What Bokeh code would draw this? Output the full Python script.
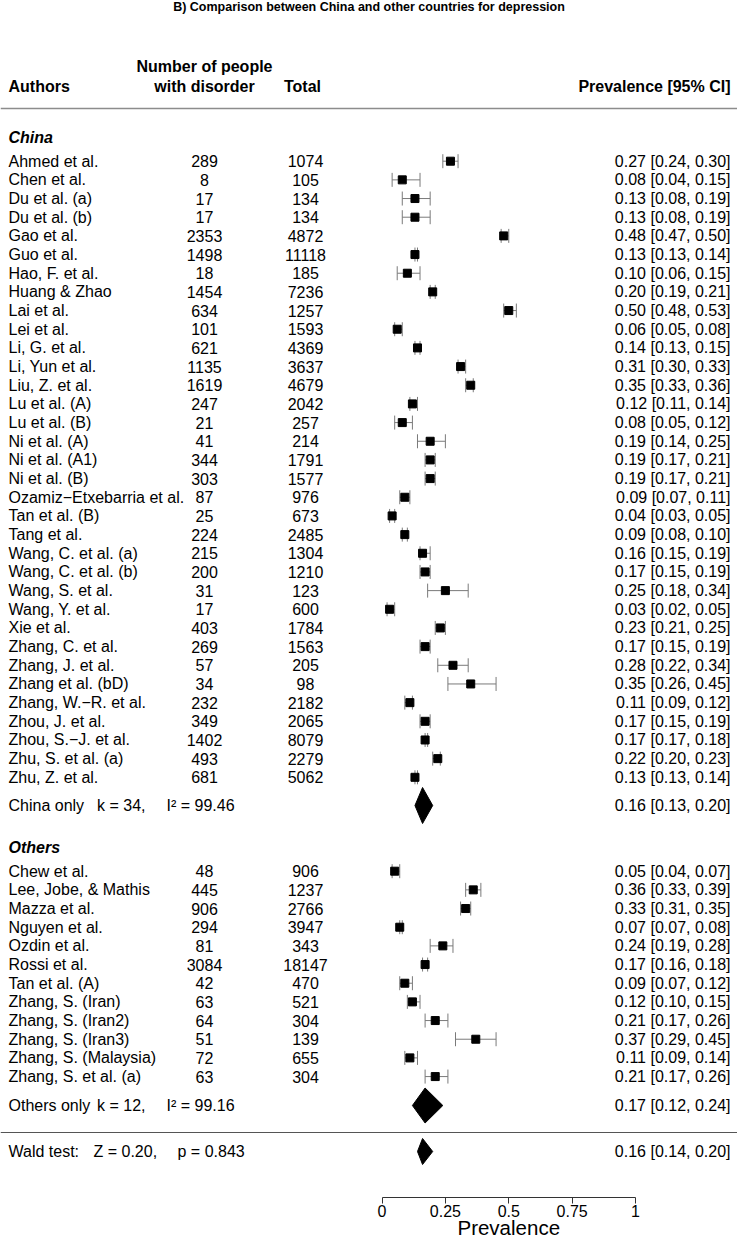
from bokeh.plotting import figure
from bokeh.models import Range1d, LinearAxis, FixedTicker, Span
from bokeh.core.properties import value
from bokeh.embed import file_html
from bokeh.resources import INLINE

# ---------------- data ----------------
china_authors = ["Ahmed et al.", "Chen et al.", "Du et al. (a)", "Du et al. (b)", "Gao et al.",
                 "Guo et al.", "Hao, F. et al.", "Huang & Zhao", "Lai et al.", "Lei et al.",
                 "Li, G. et al.", "Li, Yun et al.", "Liu, Z. et al.", "Lu et al. (A)", "Lu et al. (B)",
                 "Ni et al. (A)", "Ni et al. (A1)", "Ni et al. (B)", "Ozamiz\u2212Etxebarria et al.",
                 "Tan et al. (B)", "Tang et al.", "Wang, C. et al. (a)", "Wang, C. et al. (b)",
                 "Wang, S. et al.", "Wang, Y. et al.", "Xie et al.", "Zhang, C. et al.",
                 "Zhang, J. et al.", "Zhang et al. (bD)", "Zhang, W.\u2212R. et al.", "Zhou, J. et al.",
                 "Zhou, S.\u2212J. et al.", "Zhu, S. et al. (a)", "Zhu, Z. et al."]
china_cases = [289, 8, 17, 17, 2353, 1498, 18, 1454, 634, 101, 621, 1135, 1619, 247, 21, 41, 344,
               303, 87, 25, 224, 215, 200, 31, 17, 403, 269, 57, 34, 232, 349, 1402, 493, 681]
china_total = [1074, 105, 134, 134, 4872, 11118, 185, 7236, 1257, 1593, 4369, 3637, 4679, 2042,
               257, 214, 1791, 1577, 976, 673, 2485, 1304, 1210, 123, 600, 1784, 1563, 205, 98,
               2182, 2065, 8079, 2279, 5062]
china_est = [0.27, 0.08, 0.13, 0.13, 0.48, 0.13, 0.10, 0.20, 0.50, 0.06, 0.14, 0.31, 0.35, 0.12,
             0.08, 0.19, 0.19, 0.19, 0.09, 0.04, 0.09, 0.16, 0.17, 0.25, 0.03, 0.23, 0.17, 0.28,
             0.35, 0.11, 0.17, 0.17, 0.22, 0.13]
china_lo = [0.24, 0.04, 0.08, 0.08, 0.47, 0.13, 0.06, 0.19, 0.48, 0.05, 0.13, 0.30, 0.33, 0.11,
            0.05, 0.14, 0.17, 0.17, 0.07, 0.03, 0.08, 0.15, 0.15, 0.18, 0.02, 0.21, 0.15, 0.22,
            0.26, 0.09, 0.15, 0.17, 0.20, 0.13]
china_hi = [0.30, 0.15, 0.19, 0.19, 0.50, 0.14, 0.15, 0.21, 0.53, 0.08, 0.15, 0.33, 0.36, 0.14,
            0.12, 0.25, 0.21, 0.21, 0.11, 0.05, 0.10, 0.19, 0.19, 0.34, 0.05, 0.25, 0.19, 0.34,
            0.45, 0.12, 0.19, 0.18, 0.23, 0.14]

others_authors = ["Chew et al.", "Lee, Jobe, & Mathis", "Mazza et al.", "Nguyen et al.",
                  "Ozdin et al.", "Rossi et al.", "Tan et al. (A)", "Zhang, S. (Iran)",
                  "Zhang, S. (Iran2)", "Zhang, S. (Iran3)", "Zhang, S. (Malaysia)",
                  "Zhang, S. et al. (a)"]
others_cases = [48, 445, 906, 294, 81, 3084, 42, 63, 64, 51, 72, 63]
others_total = [906, 1237, 2766, 3947, 343, 18147, 470, 521, 304, 139, 655, 304]
others_est = [0.05, 0.36, 0.33, 0.07, 0.24, 0.17, 0.09, 0.12, 0.21, 0.37, 0.11, 0.21]
others_lo = [0.04, 0.33, 0.31, 0.07, 0.19, 0.16, 0.07, 0.10, 0.17, 0.29, 0.09, 0.17]
others_hi = [0.07, 0.39, 0.35, 0.08, 0.28, 0.18, 0.12, 0.15, 0.26, 0.45, 0.14, 0.26]

summary_names = ["China only", "Others only", "Wald test:"]
summary_stat1 = ["k = 34,", "k = 12,", "Z = 0.20,"]
summary_stat2 = ["I\u00b2 = 99.46", "I\u00b2 = 99.16", "p = 0.843"]
summary_est = [0.16, 0.17, 0.16]
summary_lo = [0.13, 0.12, 0.14]
summary_hi = [0.20, 0.24, 0.20]

x_ticks = [0, 0.25, 0.5, 0.75, 1]
x_tick_labels = ["0", "0.25", "0.5", "0.75", "1"]
x_axis_title = "Prevalence"

title_text = "B) Comparison between China and other countries for depression"

# ---------------- layout ----------------
W, H = 737, 1237
AXIS_Y = 1197                   # page px of the prevalence axis line
X0_PX, X1_PX = 381.5, 635       # page px of prevalence 0 and 1
UNIT_PX = X1_PX - X0_PX
FONT = "Liberation Sans"
FS = "16px"
ROW = 18.67


def px2x(px):
    return (px - X0_PX) / UNIT_PX


p = figure(width=W, height=H,
           x_range=Range1d(px2x(0), px2x(W)),
           y_range=Range1d(H, 0),
           x_axis_type=None, y_axis_type=None,
           toolbar_location=None, output_backend="svg",
           min_border=0, outline_line_color=None)

china_y = [160.7 + ROW * i for i in range(len(china_authors))]
others_y = [870.7 + ROW * i for i in range(len(others_authors))]
summary_y = [805.0, 1105.0, 1151.0]
diamond_h = [18.0, 17.5, 13.0]


def txt(x, y, t, align="left", style="normal", size=FS, color="black"):
    p.text(x=x, y=y, text=t, text_font=value(FONT), text_font_size=value(size),
           text_font_style=style, text_align=align, text_baseline="middle",
           text_color=color)


# title & header
txt([px2x(368.5)], [6], [title_text], align="center", style="bold", size="12.5px")
txt([px2x(204)], [66], ["Number of people"], align="center", style="bold")
txt([px2x(204)], [86], ["with disorder"], align="center", style="bold")
txt([px2x(8)], [86], ["Authors"], style="bold")
txt([px2x(302)], [86], ["Total"], align="center", style="bold")
txt([px2x(730)], [86], ["Prevalence [95% CI]"], align="right", style="bold")
p.add_layout(Span(location=108, dimension="width", line_color="#8c8c8c", line_width=1.6))
p.add_layout(Span(location=1132, dimension="width", line_color="#555555", line_width=1))

# group headers
txt([px2x(8)], [136.7], ["China"], style="bold italic")
txt([px2x(8)], [846.7], ["Others"], style="bold italic")


def group(authors, cases, total, est, lo, hi, ys):
    n = len(authors)
    txt([px2x(8)] * n, ys, authors)
    txt([px2x(204)] * n, ys, [str(c) for c in cases], align="center")
    txt([px2x(305)] * n, ys, [str(t) for t in total], align="center")
    txt([px2x(730)] * n, ys, [f"{e:.2f} [{a:.2f}, {b:.2f}]" for e, a, b in zip(est, lo, hi)],
        align="right")
    p.segment(x0=lo, y0=ys, x1=hi, y1=ys, line_color="#7a7a7a", line_width=1)
    p.segment(x0=lo, y0=[y - 7 for y in ys], x1=lo, y1=[y + 7 for y in ys],
              line_color="#7a7a7a", line_width=1)
    p.segment(x0=hi, y0=[y - 7 for y in ys], x1=hi, y1=[y + 7 for y in ys],
              line_color="#7a7a7a", line_width=1)
    p.scatter(x=est, y=ys, marker="square", size=8, fill_color="black", line_color="black")


group(china_authors, china_cases, china_total, china_est, china_lo, china_hi, china_y)
group(others_authors, others_cases, others_total, others_est, others_lo, others_hi, others_y)

# summaries
txt([px2x(8)] * 3, summary_y, summary_names)
txt([px2x(96.5), px2x(96.5), px2x(93)], summary_y, summary_stat1)
txt([px2x(166), px2x(166), px2x(177)], summary_y, summary_stat2)
txt([px2x(730)] * 3, summary_y,
    [f"{e:.2f} [{a:.2f}, {b:.2f}]" for e, a, b in zip(summary_est, summary_lo, summary_hi)],
    align="right")
p.patches(xs=[[a, e, b, e] for e, a, b in zip(summary_est, summary_lo, summary_hi)],
          ys=[[y, y - h, y, y + h] for y, h in zip(summary_y, diamond_h)],
          fill_color="black", line_color="black")

# prevalence axis, drawn at a fixed position inside the frame
ax = LinearAxis(ticker=FixedTicker(ticks=x_ticks),
                major_label_overrides={t: l for t, l in zip(x_ticks, x_tick_labels)},
                bounds=(0, 1), fixed_location=AXIS_Y)
ax.axis_line_color = "#333333"
ax.major_tick_line_color = "#333333"
ax.major_tick_out = 6
ax.major_tick_in = 0
ax.minor_tick_out = 0
ax.major_label_text_font = FONT
ax.major_label_text_font_size = "16px"
ax.major_label_text_color = "black"
ax.major_label_standoff = 1
p.add_layout(ax, "below")

# axis title centred under the 0..1 scale
p.text(x=[0.5], y=[1226.5], text=[x_axis_title], text_font=value(FONT),
       text_font_size=value("20.5px"), text_align="center", text_baseline="middle",
       text_color="black")

open("out.html", "w").write(file_html(p, INLINE))
